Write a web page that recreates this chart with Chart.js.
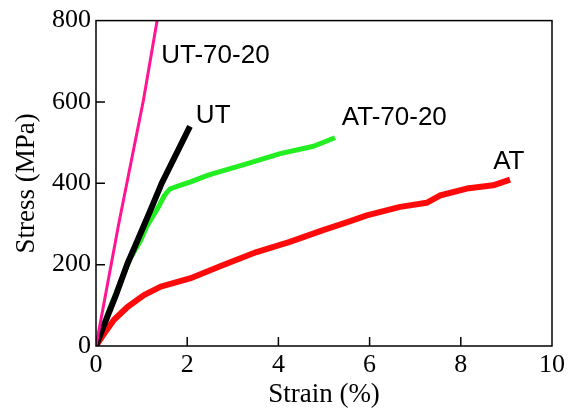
<!DOCTYPE html>
<html>
<head>
<meta charset="utf-8">
<script src="https://cdn.jsdelivr.net/npm/chart.js@4/dist/chart.umd.min.js"></script>
<style>
  html, body { margin: 0; padding: 0; background: #fff; }
  #wrap { width: 580px; height: 409px; }
</style>
</head>
<body>
<div id="wrap"><canvas id="mycanvas"></canvas></div>
<script>
// strain (%) / stress (MPa)
var utStrain = [0, 0.16, 0.45, 0.69, 0.82, 1.18, 1.44, 1.75, 2.06];
var utStress = [0, 47, 129, 203, 236, 330, 400, 470, 540];

var ut7020Strain = [0, 0.5, 1.04, 1.34];
var ut7020Stress = [0, 301, 604, 800];

var at7020Strain = [0, 0.31, 0.75, 0.98, 1.11, 1.37, 1.5, 1.62, 1.84, 2.06, 2.46, 2.57, 3.30, 4.04, 4.77, 5.24];
var at7020Stress = [0, 95, 215, 260, 293, 342, 370, 386, 395, 403, 420, 424, 448, 473, 491, 512];

var atStrain = [0, 0.18, 0.39, 0.69, 1.05, 1.42, 2.06, 2.79, 3.52, 4.25, 4.98, 5.53, 5.94, 6.67, 7.25, 7.54, 8.13, 8.71, 9.08];
var atStress = [0, 31, 64, 96, 125, 146, 166, 199, 231, 256, 285, 305, 321, 342, 352, 370, 387, 395, 409];

var xTicks = [0, 2, 4, 6, 8, 10];
var yTicks = [0, 200, 400, 600, 800];

// curve labels: text, strain, stress
var curveLabels = [
  ['UT-70-20', 1.43, 714],
  ['UT', 2.19, 567],
  ['AT-70-20', 5.39, 562],
  ['AT', 8.71, 454]
];

function pts(xs, ys) {
  var out = [];
  for (var i in xs) out.push({x: xs[i], y: ys[i]});
  return out;
}

var framePlugin = {
  id: 'frame',
  afterDraw: function(chart) {
    var ctx = chart.ctx;
    var a = chart.chartArea;
    var xs = chart.scales.x, ys = chart.scales.y;
    ctx.save();
    ctx.strokeStyle = '#000';
    ctx.lineWidth = 1.5;
    ctx.strokeRect(a.left, a.top, a.right - a.left, a.bottom - a.top);
    ctx.beginPath();
    for (var i = 1; i < xTicks.length - 1; i++) {
      var px = xs.getPixelForValue(xTicks[i]);
      ctx.moveTo(px, a.bottom);
      ctx.lineTo(px, a.bottom - 9);
    }
    for (var j = 1; j < yTicks.length - 1; j++) {
      var py = ys.getPixelForValue(yTicks[j]);
      ctx.moveTo(a.left, py);
      ctx.lineTo(a.left + 9, py);
    }
    ctx.stroke();
    ctx.fillStyle = '#000';
    ctx.font = '26px "Liberation Sans", Arial, sans-serif';
    ctx.textBaseline = 'middle';
    ctx.textAlign = 'left';
    curveLabels.forEach(function(l) {
      ctx.fillText(l[0], xs.getPixelForValue(l[1]), ys.getPixelForValue(l[2]));
    });
    ctx.restore();
  }
};

var serif = '"Liberation Serif", "Times New Roman", serif';

function ds(label, data, color, width) {
  return {
    label: label,
    data: data,
    showLine: true,
    borderColor: color,
    backgroundColor: color,
    borderWidth: width,
    borderJoinStyle: 'round',
    pointRadius: 0,
    tension: 0,
    fill: false
  };
}

new Chart(document.getElementById('mycanvas'), {
  type: 'scatter',
  data: {
    datasets: [
      ds('UT-70-20', pts(ut7020Strain, ut7020Stress), '#ff1493', 3),
      ds('UT', pts(utStrain, utStress), '#000000', 6),
      ds('AT-70-20', pts(at7020Strain, at7020Stress), '#22ee22', 5),
      ds('AT', pts(atStrain, atStress), '#ff0a0a', 6)
    ]
  },
  options: {
    responsive: true,
    maintainAspectRatio: false,
    animation: false,
    layout: { padding: { top: 20, right: 28, left: 0, bottom: 0 } },
    plugins: { legend: { display: false }, tooltip: { enabled: false } },
    scales: {
      x: {
        type: 'linear',
        min: 0, max: 10,
        afterFit: function(s) { s.height = 63; },
        afterBuildTicks: function(s) { s.ticks = xTicks.map(function(v) { return {value: v}; }); },
        grid: { display: false, drawTicks: false },
        border: { display: false },
        ticks: { color: '#000', padding: 4, maxRotation: 0, font: { family: serif, size: 26 } },
        title: { display: true, text: 'Strain (%)', color: '#000', padding: { bottom: 1, top: 0 },
                 font: { family: serif, size: 27, lineHeight: 1 } }
      },
      y: {
        type: 'linear',
        min: 0, max: 800,
        afterFit: function(s) { s.width = 96; },
        afterBuildTicks: function(s) { s.ticks = yTicks.map(function(v) { return {value: v}; }); },
        grid: { display: false, drawTicks: false },
        border: { display: false },
        ticks: { color: '#000', padding: 5, font: { family: serif, size: 26 } },
        title: { display: true, text: 'Stress (MPa)', color: '#000', padding: { top: 13, bottom: 0 },
                 font: { family: serif, size: 27, lineHeight: 1 } }
      }
    }
  },
  plugins: [framePlugin]
});
</script>
</body>
</html>
